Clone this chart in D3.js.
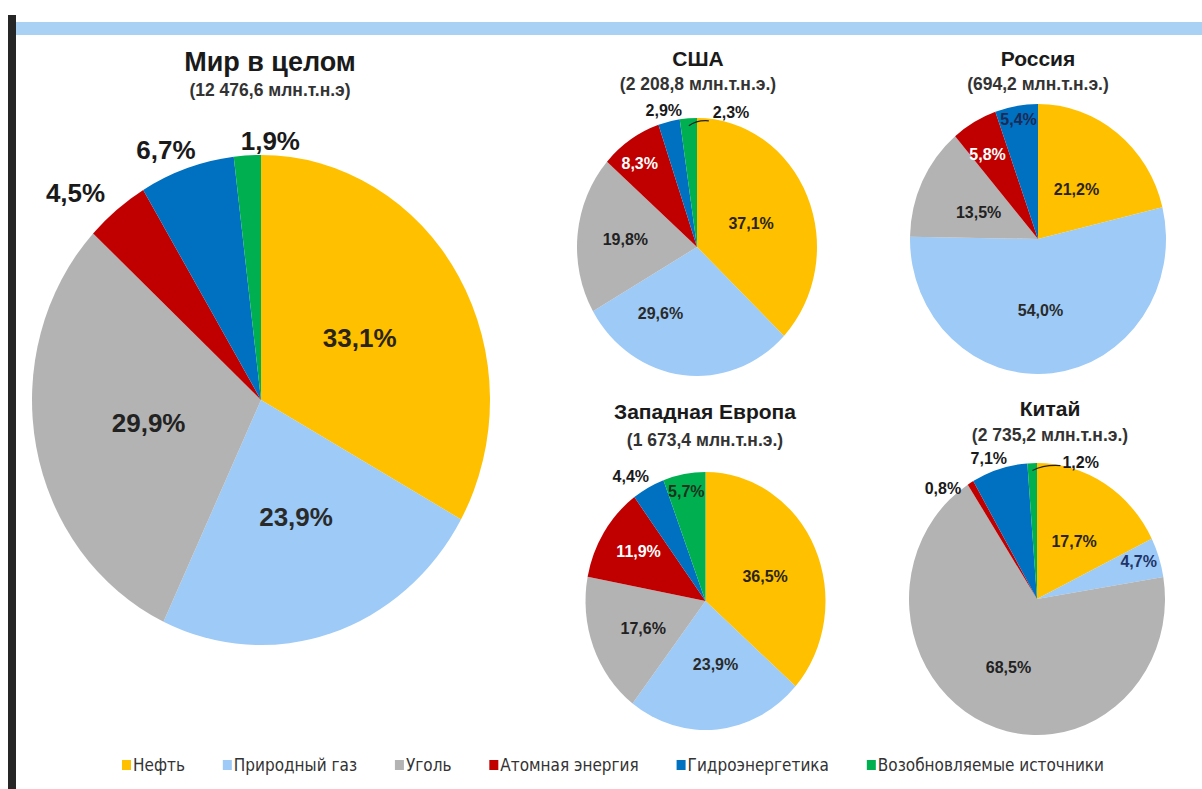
<!DOCTYPE html>
<html><head><meta charset="utf-8">
<script src="https://cdn.jsdelivr.net/npm/d3@7"></script>
<style>html,body{margin:0;padding:0;background:#fff;}svg{display:block;}</style>
</head><body>
<svg id="chart" width="1202" height="789"></svg>
<script>
// ---- data ----
const categories = ["Нефть","Природный газ","Уголь","Атомная энергия","Гидроэнергетика","Возобновляемые источники"];
const regionNames = ["Мир в целом","США","Россия","Западная Европа","Китай"];
const regionTotals = ["(12 476,6 млн.т.н.э)","(2 208,8 млн.т.н.э.)","(694,2 млн.т.н.э.)","(1 673,4 млн.т.н.э.)","(2 735,2 млн.т.н.э.)"];
const worldValues  = [33.1, 23.9, 29.9, 4.5, 6.7, 1.9];
const usaValues    = [37.1, 29.6, 19.8, 8.3, 2.9, 2.3];
const russiaValues = [21.2, 54.0, 13.5, 5.8, 5.4, 0];
const europeValues = [36.5, 23.9, 17.6, 11.9, 4.4, 5.7];
const chinaValues  = [17.7, 4.7, 68.5, 0.8, 7.1, 1.2];
const regionValues = [worldValues, usaValues, russiaValues, europeValues, chinaValues];

// ---- styles / layout ----
const colors = ["#ffc000","#9dcaf6","#b3b3b3","#c00000","#0070c0","#00b050"];
const inTextColors = ["#2a2416","#2a2a2a","#222","#ffffff","#1c2a55","#17331c"];
const layout = [
  {cx:261, cy:400, rx:229, ry:245, tx:270, ty:71, tSize:27, sy:96, lSize:26, inR:0.5,
   mode:["in","in","in","out","out","out"], nudge:[[0,0],[0,0],[0,0],[-20,-4],[-10,-3],[25,2]]},
  {cx:697, cy:247, rx:120, ry:129, tx:698, ty:66, tSize:21, sy:90, lSize:16, inR:0.6, lead:20,
   mode:["in","in","in","in","out","lead"], nudge:[[-12,7],[-28,-10],[0,0],[-10,-7],[0,1],[2,-4]]},
  {cx:1038, cy:239, rx:128, ry:135, tx:1038, ty:66, tSize:21, sy:90, lSize:16, inR:0.6,
   mode:["in","in","in","in","in","none"], nudge:[[-9,14],[-6,-9],[10,8],[7,21],[0,0],[0,0]]},
  {cx:705.5, cy:601, rx:120, ry:129, tx:705, ty:419, tSize:21, sy:446, lSize:16, inR:0.6,
   mode:["in","in","in","in","out","in"], nudge:[[-6,7],[3,-14],[5,0],[-6,-8],[-7,0],[0,5]]},
  {cx:1037, cy:599, rx:128, ry:136, tx:1050, ty:416, tSize:21, sy:441, lSize:16, inR:0.55, lead:28,
   mode:["in","in","in","out","out","lead"], nudge:[[0,6],[-8,0],[0,0],[-16,16],[-4,1],[0,1]],
   colorOverride:{1:"#1f3468"}}
];

const svg = d3.select("#chart");
const fmt = v => d3.format(".1f")(v).replace(".", ",") + "%";

// frame decorations
svg.append("rect").attr("x",8).attr("y",15).attr("width",8).attr("height",789-15).attr("fill","#262626");
svg.append("rect").attr("x",16).attr("y",22).attr("width",1202-16).attr("height",13).attr("fill","#a9d1f3");

const pie = d3.pie().sort(null).value(d => d);

regionValues.forEach((vals, ri) => {
  const L = layout[ri];
  const k = L.ry / L.rx;
  const arcs = pie(vals);
  const arc = d3.arc().innerRadius(0).outerRadius(L.rx);

  const gPie = svg.append("g").attr("transform", `translate(${L.cx},${L.cy}) scale(1,${k})`);
  gPie.selectAll("path").data(arcs).join("path")
    .attr("d", arc)
    .attr("fill", (d,i) => colors[i]);

  // titles
  svg.append("text").attr("x", L.tx).attr("y", L.ty).attr("text-anchor","middle")
    .attr("font-family","Liberation Sans, Arial, sans-serif").attr("font-weight","bold")
    .attr("font-size", L.tSize).attr("fill","#1a1a1a").text(regionNames[ri]);
  svg.append("text").attr("x", L.tx).attr("y", L.sy).attr("text-anchor","middle")
    .attr("font-family","Liberation Sans, Arial, sans-serif").attr("font-weight","bold")
    .attr("font-size", 17.5).attr("fill","#333").text(regionTotals[ri]);

  const gLab = svg.append("g").attr("transform", `translate(${L.cx},${L.cy})`);
  arcs.forEach((d, i) => {
    const mode = L.mode[i];
    if (mode === "none" || d.data <= 0) return;
    const a = (d.startAngle + d.endAngle) / 2;
    const theta = d.endAngle - d.startAngle;
    const s = Math.sin(a), c = Math.cos(a);
    const t = gLab.append("text")
      .attr("font-family","Liberation Sans, Arial, sans-serif").attr("font-weight","bold")
      .attr("font-size", L.lSize).attr("dominant-baseline","central")
      .text(fmt(d.data));
    const w = t.node().getComputedTextLength();
    const h = L.lSize * 0.75;
    const nd = L.nudge[i];
    let x, y;
    if (mode === "in") {
      const r = Math.max(L.inR * L.rx, Math.min(0.9 * L.rx, (w + 8) / theta));
      x = r * s; y = -r * c * k;
      const col = (L.colorOverride && L.colorOverride[i]) || inTextColors[i];
      t.attr("fill", col).attr("text-anchor","middle");
    } else if (mode === "out") {
      const r = L.rx + 4;
      x = r * s + (w / 2) * s;
      y = -r * c * k - (h / 2 + 2) * c;
      t.attr("fill","#1a1a1a").attr("text-anchor","middle");
    } else if (mode === "lead") {
      const r0 = L.rx - 7;
      const x0 = r0 * s, y0 = -r0 * c * k;
      const x2 = x0 + L.lead, y2 = y0 - 5;
      gLab.append("path")
        .attr("d", `M${x0},${y0} Q${x0 + L.lead * 0.4},${y0 - 6} ${x2},${y2}`)
        .attr("fill","none").attr("stroke","#222").attr("stroke-width",1.2);
      x = x2 + 2; y = y2 - 4;
      t.attr("fill","#1a1a1a").attr("text-anchor","start");
    }
    t.attr("x", x + nd[0]).attr("y", y + nd[1]);
  });
});

// legend
const legend = svg.append("g").attr("transform","translate(0,765)");
const items = [];
categories.forEach((name, i) => {
  const g = legend.append("g");
  g.append("rect").attr("x",0).attr("y",-5).attr("width",9).attr("height",10).attr("fill",colors[i]);
  const t = g.append("text").attr("x",11).attr("y",0).attr("dominant-baseline","central")
    .attr("font-family","Liberation Sans Narrow, Arial Narrow, DejaVu Sans Condensed, sans-serif")
    .attr("font-size",17).attr("fill","#333").text(name);
  const w = 11 + t.node().getComputedTextLength();
  items.push({g, w});
});
const legendLeft = 122, legendRight = 1104;
const gap = (legendRight - legendLeft - d3.sum(items, d => d.w)) / (items.length - 1);
let lx = legendLeft;
items.forEach(it => { it.g.attr("transform", `translate(${lx},0)`); lx += it.w + gap; });
</script>
</body></html>
